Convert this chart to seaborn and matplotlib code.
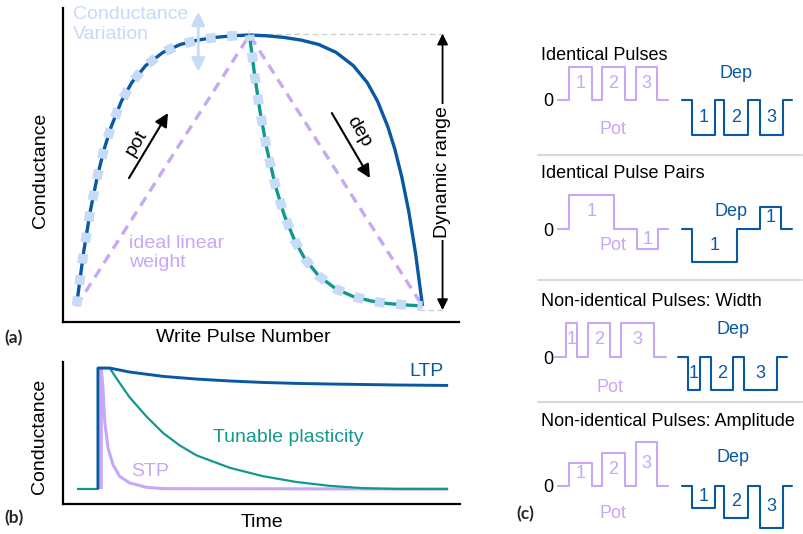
import matplotlib
matplotlib.use("Agg")
import matplotlib.pyplot as plt
import seaborn as sns

sns.set_style("white")
plt.rcParams["font.family"] = ["Liberation Sans", "DejaVu Sans"]

BLUE = "#0b58a2"
TEAL = "#12998f"
LAV = "#c8a7f7"
LBLUE = "#c6dbf8"
GRAY = "#cfcfcf"
SEP = "#d6d9e2"

# ---------------- panel (a) data ----------------
pot_pulse = [0, 2, 4, 6, 8, 10, 13, 16, 20, 25, 30, 35, 40, 45, 50]
pot_g = [0, 0.194, 0.351, 0.477, 0.579, 0.661, 0.756, 0.825, 0.887, 0.936,
         0.965, 0.981, 0.991, 0.997, 1.0]
dep_fast_pulse = [50, 51.5, 53, 55, 57.5, 60, 63, 66, 70, 75, 80, 85, 90, 95, 100]
dep_fast_g = [1.0, 0.85, 0.722, 0.581, 0.443, 0.337, 0.243, 0.174, 0.111, 0.063,
              0.035, 0.019, 0.009, 0.004, 0.0]
dep_slow_pulse = [50, 55, 60, 65, 70, 75, 80, 84, 87, 90, 92, 94, 96, 98, 100]
dep_slow_g = [1.0, 0.997, 0.991, 0.981, 0.965, 0.936, 0.887, 0.825, 0.756, 0.661,
              0.579, 0.477, 0.351, 0.194, 0.0]
ideal_pulse = [0, 50, 100]
ideal_g = [0, 1, 0]

# ---------------- panel (b) data ----------------
t_ltp = [5.66, 5.66, 8.8, 14.2, 23.2, 32.2, 41.2, 50.1, 59.1, 68.1, 86.1, 100]
g_ltp = [0, 1, 1, 0.967, 0.931, 0.909, 0.893, 0.881, 0.873, 0.868, 0.860, 0.856]
t_tun = [0, 5.66, 5.66, 8.8, 11.5, 14.2, 18.7, 23.2, 27.7, 32.2, 41.2, 50.1,
         59.1, 68.1, 77.1, 86.1, 100]
g_tun = [0, 0, 1, 1, 0.876, 0.757, 0.600, 0.463, 0.360, 0.278, 0.175, 0.106,
         0.058, 0.026, 0.007, 0, 0]
t_stp = [6.55, 6.55, 7.0, 7.47, 8.36, 9.7, 11.5, 14.2, 18.7, 23.2, 100]
g_stp = [0, 1, 0.835, 0.559, 0.339, 0.201, 0.104, 0.05, 0.014, 0.003, 0]

# ---------------- panel (c) data ----------------
titles = ["Identical Pulses", "Identical Pulse Pairs",
          "Non-identical Pulses: Width", "Non-identical Pulses: Amplitude"]
s1_pot_t = [0, 1.1, 3.4, 4.4, 6.7, 7.8, 9.9, 11.0]
s1_pot_v = [0, 3.3, 0, 3.3, 0, 3.3, 0, 0]
s1_pot_n = ["1", "2", "3"]
s1_dep_t = [12.4, 13.4, 15.7, 16.6, 19.0, 20.2, 22.5, 23.4]
s1_dep_v = [0, -3.5, 0, -3.5, 0, -3.5, 0, 0]
s1_dep_n = ["1", "2", "3"]

s2_pot_t = [0, 1.1, 5.6, 7.9, 10.0, 11.0]
s2_pot_v = [0, 3.4, 0, -2.0, 0, 0]
s2_pot_n = ["1", "1"]
s2_dep_t = [12.4, 13.4, 17.9, 20.2, 22.3, 23.4]
s2_dep_v = [0, -3.3, 0, 2.2, 0, 0]
s2_dep_n = ["1", "1"]

s3_pot_t = [-0.3, 0.8, 1.9, 3.0, 5.2, 6.3, 9.6, 10.8]
s3_pot_v = [0, 3.4, 0, 3.4, 0, 3.4, 0, 0]
s3_pot_n = ["1", "2", "3"]
s3_dep_t = [12.0, 13.0, 14.2, 15.3, 17.5, 18.6, 21.9, 22.9]
s3_dep_v = [0, -3.3, 0, -3.3, 0, -3.3, 0, 0]
s3_dep_n = ["1", "2", "3"]

s4_pot_t = [0, 1.1, 3.4, 4.4, 6.7, 7.8, 9.9, 11.0]
s4_pot_v = [0, 2.3, 0, 3.3, 0, 4.4, 0, 0]
s4_pot_n = ["1", "2", "3"]
s4_dep_t = [12.4, 13.4, 15.7, 16.6, 19.0, 20.2, 22.5, 23.4]
s4_dep_v = [0, -2.2, 0, -3.2, 0, -4.2, 0, 0]
s4_dep_n = ["1", "2", "3"]

W, H = 804, 534
fig = plt.figure(figsize=(W / 100, H / 100), dpi=100)


def box(l, t, r, b):
    return [l / W, 1 - b / H, (r - l) / W, (b - t) / H]


def line(ax, x, y, color, lw, ls="-"):
    sns.lineplot(x=x, y=y, ax=ax, color=color, estimator=None, sort=False)
    ln = ax.lines[-1]
    ln.set_linewidth(lw)
    ln.set_linestyle(ls)
    ln.set_dash_capstyle("butt")
    ln.set_solid_capstyle("butt")
    ln.set_solid_joinstyle("round")
    return ln


FS = 14

# ================= panel (a) =================
axa = fig.add_axes(box(63, 8, 459, 322))
axa.set_xlim(-3.9, 110.55)
axa.set_ylim(-0.059, 1.0996)
for s in ["top", "right"]:
    axa.spines[s].set_visible(False)
for s in ["left", "bottom"]:
    axa.spines[s].set_linewidth(1.6)
    axa.spines[s].set_color("black")
axa.set_xticks([])
axa.set_yticks([])

axa.plot([50, 106.5], [1.005, 1.005], color=GRAY, lw=1.0, ls=(0, (4, 2.5)))
axa.plot([99, 106.5], [-0.015, -0.015], color=GRAY, lw=1.0, ls=(0, (4, 2.5)))

line(axa, ideal_pulse, ideal_g, LAV, 2.4, (0, (3.0, 2.1)))
line(axa, dep_slow_pulse, dep_slow_g, BLUE, 2.4)
line(axa, pot_pulse, pot_g, BLUE, 2.4)
line(axa, dep_fast_pulse, dep_fast_g, TEAL, 2.4)
line(axa, pot_pulse, pot_g, LBLUE, 7.0, (0, (1.0, 1.2)))
line(axa, dep_fast_pulse, dep_fast_g, LBLUE, 7.0, (0.4, (1.0, 1.2)))

# dynamic range arrow
axa.annotate("", xy=(105.8, 1.005), xytext=(105.8, -0.015),
             arrowprops=dict(arrowstyle="<|-|>", color="black", lw=1.3,
                             mutation_scale=16, shrinkA=0, shrinkB=0),
             annotation_clip=False)
axa.text(105.8, 0.495, "Dynamic range", rotation=90, ha="center", va="center",
         fontsize=FS, color="black",
         bbox=dict(facecolor="white", edgecolor="none", pad=1.5))

# conductance variation
axa.annotate("", xy=(35.2, 1.086), xytext=(35.2, 0.865),
             arrowprops=dict(arrowstyle="<|-|>", color=LBLUE, lw=2.0,
                             mutation_scale=20, shrinkA=0, shrinkB=0),
             annotation_clip=False)
axa.text(-0.9, 1.107, "Conductance\nVariation", ha="left", va="top",
         fontsize=FS, color=LBLUE, linespacing=1.2, clip_on=False)

# pot / dep arrows
axa.annotate("", xy=(26.45, 0.712), xytext=(15.17, 0.472),
             arrowprops=dict(arrowstyle="-|>", color="black", lw=1.5,
                             mutation_scale=20, shrinkA=0, shrinkB=0))
axa.text(17.3, 0.603, "pot", rotation=59, ha="center", va="center",
         fontsize=FS, color="black")
axa.annotate("", xy=(84.8, 0.472), xytext=(73.8, 0.712),
             arrowprops=dict(arrowstyle="-|>", color="black", lw=1.5,
                             mutation_scale=20, shrinkA=0, shrinkB=0))
axa.text(81.6, 0.645, "dep", rotation=-59, ha="center", va="center",
         fontsize=FS, color="black")

axa.text(15.3, 0.196, "ideal linear\nweight", ha="left", va="center",
         fontsize=FS, color=LAV, linespacing=1.2)

axa.text(0.4545, -0.048, "Write Pulse Number", transform=axa.transAxes,
         ha="center", va="center", fontsize=FS, color="black", clip_on=False)
axa.text(-0.058, 0.484, "Conductance", transform=axa.transAxes, rotation=90,
         ha="center", va="center", fontsize=FS, color="black", clip_on=False)

# ================= panel (b) =================
axb = fig.add_axes(box(63, 362, 460, 504))
axb.set_xlim(-3.77, 103.2)
axb.set_ylim(-0.124, 1.05)
for s in ["top", "right"]:
    axb.spines[s].set_visible(False)
for s in ["left", "bottom"]:
    axb.spines[s].set_linewidth(1.6)
    axb.spines[s].set_color("black")
axb.set_xticks([])
axb.set_yticks([])

line(axb, t_stp, g_stp, LAV, 2.2)
line(axb, t_tun, g_tun, TEAL, 1.6)
line(axb, t_ltp, g_ltp, BLUE, 2.1)

axb.text(94.1, 0.974, "LTP", ha="center", va="center", fontsize=FS, color=BLUE)
axb.text(56.9, 0.424, "Tunable plasticity", ha="center", va="center",
         fontsize=FS, color=TEAL)
axb.text(19.6, 0.145, "STP", ha="center", va="center", fontsize=FS, color=LAV)

axb.text(0.501, -0.13, "Time", transform=axb.transAxes,
         ha="center", va="center", fontsize=FS, color="black", clip_on=False)
axb.text(-0.058, 0.479, "Conductance", transform=axb.transAxes, rotation=90,
         ha="center", va="center", fontsize=FS, color="black", clip_on=False)

# ================= panel (c) =================
axc = fig.add_axes(box(520, 0, 804, 534))
axc.set_xlim(-3.8, 24.6)
axc.set_ylim(-53.4, 0)
axc.axis("off")

FC = 13


def train(t, v, labels, base, color):
    sns.lineplot(x=t, y=[base + vi for vi in v], ax=axc, color=color,
                 drawstyle="steps-post", estimator=None, sort=False)
    axc.lines[-1].set_linewidth(1.5)
    k = 0
    for i in range(len(v) - 1):
        if v[i] != 0:
            axc.text((t[i] + t[i + 1]) / 2, base + v[i] / 2, labels[k],
                     ha="center", va="center", fontsize=FC, color=color)
            k += 1


sections = [
    (-10.0, s1_pot_t, s1_pot_v, s1_pot_n, s1_dep_t, s1_dep_v, s1_dep_n,
     -4.4, 61.3, -3.0, 73.6, 2.7),
    (-22.9, s2_pot_t, s2_pot_v, s2_pot_n, s2_dep_t, s2_dep_v, s2_dep_n,
     -5.6, 61.3, -1.6, 73.1, 1.7),
    (-35.7, s3_pot_t, s3_pot_v, s3_pot_n, s3_dep_t, s3_dep_v, s3_dep_n,
     -5.5, 61.0, -3.0, 73.3, 2.7),
    (-48.55, s4_pot_t, s4_pot_v, s4_pot_n, s4_dep_t, s4_dep_v, s4_dep_n,
     -6.35, 61.3, -2.75, 73.3, 2.75),
]
for (base, pt, pv, pn, dt, dv, dn, ttl_dy, pot_px, pot_dy, dep_px, dep_dy), ttl in zip(sections, titles):
    axc.text(-1.7, base - ttl_dy, ttl, ha="left", va="center", fontsize=FC,
             color="black")
    axc.text(-1.0, base - 0.2, "0", ha="center", va="center", fontsize=FC,
             color="black")
    train(pt, pv, pn, base, LAV)
    train(dt, dv, dn, base, BLUE)
    axc.text((pot_px * 10 - 558) / 10, base + pot_dy, "Pot", ha="center",
             va="center", fontsize=FC, color=LAV)
    axc.text((dep_px * 10 - 558) / 10, base + dep_dy, "Dep", ha="center",
             va="center", fontsize=FC, color=BLUE)

for ysep in [-15.5, -28.0, -40.2]:
    axc.plot([-2.0, 24.4], [ysep, ysep], color=SEP, lw=1.5)

# panel letters
for lx, ly, lab in [(14, 338, "(a)"), (14, 518, "(b)"), (525, 514, "(c)")]:
    fig.text(lx / W, 1 - ly / H, lab, ha="center", va="center", fontsize=12.5,
             fontweight="bold", family=["Lato", "DejaVu Sans"])

fig.savefig("out.png", dpi=100)
